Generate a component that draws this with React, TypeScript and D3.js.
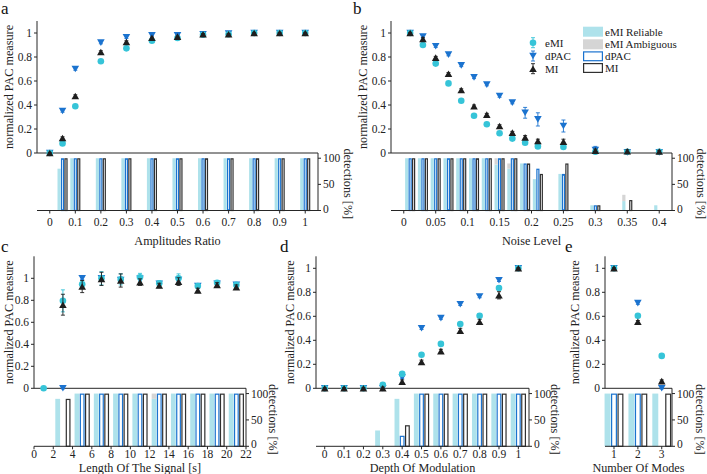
import React from 'react';
import * as d3 from 'd3';

// ---------------- Panel a : Amplitudes Ratio ----------------
const ampRatio = [0, 0.05, 0.1, 0.2, 0.3, 0.4, 0.5, 0.6, 0.7, 0.8, 0.9, 1];
const aEMI = [0, 0.08, 0.39, 0.765, 0.872, 0.935, 0.958, 0.985, 0.99, 1, 1, 1];
const aDPAC = [0, 0.35, 0.70, 0.92, 0.965, 0.98, 0.98, 0.99, 0.995, 1, 1, 1];
const aMI = [0, 0.125, 0.475, 0.842, 0.925, 0.96, 0.97, 0.99, 0.99, 1, 1, 1];
const aEMIErr = [0.005, 0.01, 0.01, 0.01, 0.01, 0.005, 0.005, 0.005, 0.005, 0.005, 0.005, 0.005];
const aDPACErr = [0.005, 0.01, 0.01, 0.01, 0.01, 0.005, 0.005, 0.005, 0.005, 0.005, 0.005, 0.005];
const aMIErr = [0.005, 0.01, 0.01, 0.01, 0.01, 0.005, 0.005, 0.005, 0.005, 0.005, 0.005, 0.005];
const aRel = [0, 80, 100, 100, 100, 100, 100, 100, 100, 100, 100, 100];
const aAmb = [0, 0, 0, 0, 0, 0, 0, 0, 0, 0, 0, 0];
const aDPACDet = [0, 100, 100, 100, 100, 100, 100, 100, 100, 100, 100, 100];
const aMIDet = [0, 100, 100, 100, 100, 100, 100, 100, 100, 100, 100, 100];
const aTicks = [0, 0.1, 0.2, 0.3, 0.4, 0.5, 0.6, 0.7, 0.8, 0.9, 1];

// ---------------- Panel b : Noise Level ----------------
const noiseLevel = [0.01, 0.03, 0.05, 0.07, 0.09, 0.11, 0.13, 0.15, 0.17, 0.19, 0.21, 0.25, 0.3, 0.35, 0.4];
const bEMI = [1, 0.9, 0.745, 0.58, 0.435, 0.31, 0.24, 0.165, 0.12, 0.085, 0.055, 0.05, 0.01, 0.01, 0.01];
const bDPAC = [1, 0.97, 0.89, 0.82, 0.73, 0.63, 0.57, 0.475, 0.42, 0.335, 0.28, 0.225, 0.025, 0.005, 0.005];
const bMI = [1, 0.95, 0.795, 0.66, 0.525, 0.39, 0.32, 0.225, 0.17, 0.13, 0.1, 0.095, 0.02, 0.015, 0.012];
const bEMIErr = [0.005, 0.01, 0.01, 0.01, 0.01, 0.01, 0.01, 0.01, 0.01, 0.01, 0.01, 0.01, 0.01, 0.01, 0.01];
const bDPACErr = [0.005, 0.01, 0.01, 0.01, 0.01, 0.01, 0.01, 0.01, 0.01, 0.045, 0.055, 0.05, 0.03, 0.012, 0.01];
const bMIErr = [0.005, 0.01, 0.01, 0.01, 0.01, 0.01, 0.01, 0.01, 0.01, 0.015, 0.015, 0.02, 0.012, 0.012, 0.01];
const bRel = [100, 100, 100, 100, 100, 100, 100, 88, 80, 90, 60, 70, 10, 18, 10];
const bAmb = [0, 0, 0, 0, 0, 0, 0, 12, 10, 0, 0, 0, 0, 12, 0];
const bDPACDet = [100, 100, 100, 100, 100, 100, 100, 100, 100, 90, 80, 70, 10, 0, 0];
const bMIDet = [100, 100, 100, 100, 100, 100, 100, 100, 100, 90, 70, 90, 10, 20, 0];
const bTicks = [0, 0.05, 0.1, 0.15, 0.2, 0.25, 0.3, 0.35, 0.4];

// ---------------- Panel c : Length Of The Signal ----------------
const signalLength = [1, 3, 5, 7, 9, 11, 13, 15, 17, 19, 21];
const cEMI = [0, 0.795, 0.945, 1.0, 0.99, 1.01, 0.955, 1.0, 0.93, 0.96, 0.94];
const cDPAC: (number | null)[] = [null, 0, 1.0, 1.0, 0.985, 0.995, 0.95, 0.985, 0.93, 0.95, 0.94];
const cMI: (number | null)[] = [null, 0.76, 0.925, 0.995, 0.98, 0.965, 0.935, 0.97, 0.89, 0.94, 0.92];
const cEMIErr = [0, 0.1, 0.03, 0.06, 0.05, 0.035, 0.02, 0.04, 0.02, 0.02, 0.02];
const cDPACErr = [0, 0.005, 0.01, 0.01, 0.01, 0.01, 0.01, 0.01, 0.01, 0.01, 0.01];
const cMIErr = [0, 0.095, 0.055, 0.06, 0.06, 0.03, 0.02, 0.035, 0.02, 0.02, 0.02];
const cRel = [0, 90, 100, 100, 100, 100, 90, 100, 100, 100, 100];
const cAmb = [0, 0, 0, 0, 0, 0, 10, 0, 0, 0, 0];
const cDPACDet = [0, 0, 100, 100, 100, 100, 100, 100, 100, 100, 100];
const cMIDet = [0, 90, 100, 100, 100, 100, 100, 100, 100, 100, 100];
const cTicks = [0, 2, 4, 6, 8, 10, 12, 14, 16, 18, 20, 22];

// ---------------- Panel d : Depth Of Modulation ----------------
const modDepth = [0, 0.1, 0.2, 0.3, 0.4, 0.5, 0.6, 0.7, 0.8, 0.9, 1];
const dEMI = [0, 0, 0, 0.03, 0.12, 0.28, 0.37, 0.535, 0.605, 0.835, 1];
const dDPAC = [0, 0, 0, 0, 0.09, 0.5, 0.585, 0.7, 0.765, 0.9, 1];
const dMI = [0, 0, 0, 0, 0.055, 0.22, 0.31, 0.48, 0.555, 0.775, 1];
const dEMIErr = [0.005, 0.005, 0.005, 0.01, 0.015, 0.01, 0.01, 0.01, 0.015, 0.02, 0.005];
const dDPACErr = [0.005, 0.005, 0.005, 0.005, 0.01, 0.01, 0.01, 0.01, 0.01, 0.01, 0.005];
const dMIErr = [0.005, 0.005, 0.005, 0.01, 0.015, 0.015, 0.015, 0.02, 0.02, 0.03, 0.005];
const dRel = [0, 0, 0, 30, 90, 100, 100, 100, 100, 100, 100];
const dAmb = [0, 0, 0, 0, 0, 0, 0, 0, 0, 0, 0];
const dDPACDet = [0, 0, 0, 0, 20, 100, 100, 100, 100, 100, 100];
const dMIDet = [0, 0, 0, 0, 40, 100, 100, 100, 100, 100, 100];
const dTicks = [0, 0.1, 0.2, 0.3, 0.4, 0.5, 0.6, 0.7, 0.8, 0.9, 1];

// ---------------- Panel e : Number Of Modes ----------------
const numModes = [1, 2, 3];
const eEMI = [1, 0.605, 0.27];
const eDPAC = [1, 0.71, 0];
const eMIv = [1, 0.555, 0.06];
const eEMIErr = [0.005, 0.01, 0.01];
const eDPACErr = [0.005, 0.01, 0.005];
const eMIErr = [0.005, 0.01, 0.01];
const eRel = [100, 100, 100];
const eAmb = [0, 0, 0];
const eDPACDet = [100, 100, 0];
const eMIDet = [100, 100, 100];
const eTicks = [1, 2, 3];

const yTicks = [0, 0.2, 0.4, 0.6, 0.8, 1];
const detTicks = [0, 50, 100];

const COL = {
  emi: '#36c4d8',
  dpac: '#1b73cf',
  mi: '#1e1e1e',
  rel: '#aee2eb',
  amb: '#d5d5d5',
  axis: '#262626',
  miBar: '#303030',
};
const FONT = '"Liberation Serif", "Times New Roman", serif';
const TICK_FS = 11.5;
const LABEL_FS = 12.2;
const LEGEND_FS = 11;

const fmt = (v: number) => String(+v.toFixed(3));

interface Cfg {
  letter: string; letterX: number; letterY: number;
  x: number[]; xDomain: [number, number]; xRange: [number, number]; xTicks: number[];
  xLabel: string; minSpacing: number;
  zeroY: number; topY: number; yMax: number; baseY: number;
  tickLabelY: number; xLabelY: number; yLabelX: number; detLabelX: number;
  emi: (number | null)[]; emiErr: number[];
  dpac: (number | null)[]; dpacErr: number[];
  mi: (number | null)[]; miErr: number[];
  rel: number[]; amb: number[]; dpacDet: number[]; miDet: number[];
}

function triUp(cx: number, cy: number, s = 7.6, h = 6.6) {
  return `M${cx},${cy - h / 2}L${cx + s / 2},${cy + h / 2}L${cx - s / 2},${cy + h / 2}Z`;
}
function triDown(cx: number, cy: number, s = 7.6, h = 6.6) {
  return `M${cx},${cy + h / 2}L${cx + s / 2},${cy - h / 2}L${cx - s / 2},${cy - h / 2}Z`;
}

function ErrBar({ cx, y0, y1, color }: { cx: number; y0: number; y1: number; color: string }) {
  const c = 2;
  return (
    <g stroke={color} strokeWidth={0.9}>
      <line x1={cx} x2={cx} y1={y0} y2={y1} />
      <line x1={cx - c} x2={cx + c} y1={y0} y2={y0} />
      <line x1={cx - c} x2={cx + c} y1={y1} y2={y1} />
    </g>
  );
}

function Panel({ cfg }: { cfg: Cfg }) {
  const x = d3.scaleLinear().domain(cfg.xDomain).range(cfg.xRange);
  const y = d3.scaleLinear().domain([0, cfg.yMax]).range([cfg.zeroY, cfg.topY]);
  const yb = d3.scaleLinear().domain([0, 110]).range([cfg.baseY, cfg.zeroY]);
  const sp = x(cfg.minSpacing) - x(0);
  const bw = 0.25 * sp;
  const off = 0.27 * sp;
  const [x0, x1] = cfg.xRange;

  const series = (vals: (number | null)[], errs: number[], color: string, kind: 'c' | 'u' | 'd') =>
    vals.map((v, i) => {
      if (v === null || v === undefined) return null;
      const cx = x(cfg.x[i]);
      const cy = y(v);
      const e = errs[i] || 0;
      return (
        <g key={kind + i}>
          {e > 0 && <ErrBar cx={cx} y0={y(v - e)} y1={y(v + e)} color={color} />}
          {kind === 'c' && <circle cx={cx} cy={cy} r={3.3} fill={color} />}
          {kind === 'u' && <path d={triUp(cx, cy)} fill={color} />}
          {kind === 'd' && <path d={triDown(cx, cy)} fill={color} />}
        </g>
      );
    });

  const midTop = (cfg.zeroY + cfg.topY) / 2;
  const midBar = (cfg.zeroY + cfg.baseY) / 2 + 2;

  return (
    <g>
      <text x={cfg.letterX} y={cfg.letterY} fontSize={17} fontFamily={FONT} fill="#111">{cfg.letter}</text>
      {/* bars */}
      {cfg.x.map((xv, i) => {
        const cx = x(xv);
        const rel = cfg.rel[i];
        const amb = cfg.amb[i];
        return (
          <g key={'bar' + i}>
            {rel > 0 && (
              <rect x={cx - off - bw / 2} width={bw} y={yb(rel)} height={cfg.baseY - yb(rel)} fill={COL.rel} />
            )}
            {amb > 0 && (
              <rect x={cx - off - bw / 2} width={bw} y={yb(rel + amb)} height={yb(rel) - yb(rel + amb)} fill={COL.amb} />
            )}
            {cfg.dpacDet[i] > 0 && (
              <rect x={cx - bw / 2 + 0.6} width={bw - 1.2} y={yb(cfg.dpacDet[i]) + 0.6}
                height={cfg.baseY - yb(cfg.dpacDet[i]) - 0.6} fill="#fff" stroke={COL.dpac} strokeWidth={1.2} />
            )}
            {cfg.miDet[i] > 0 && (
              <rect x={cx + off - bw / 2 + 0.6} width={bw - 1.2} y={yb(cfg.miDet[i]) + 0.6}
                height={cfg.baseY - yb(cfg.miDet[i]) - 0.6} fill="#fff" stroke={COL.miBar} strokeWidth={1.2} />
            )}
          </g>
        );
      })}
      {/* axes */}
      <g stroke={COL.axis} strokeWidth={1} fill="none">
        <line x1={x0} x2={x0} y1={cfg.zeroY} y2={cfg.topY} />
        <line x1={x0} x2={x1} y1={cfg.zeroY} y2={cfg.zeroY} />
        <line x1={x0} x2={x1} y1={cfg.baseY} y2={cfg.baseY} />
        <line x1={x1} x2={x1} y1={cfg.zeroY} y2={cfg.baseY} />
        {yTicks.map((t) => (
          <line key={'yt' + t} x1={x0 - 3} x2={x0} y1={y(t)} y2={y(t)} />
        ))}
        {cfg.xTicks.map((t) => (
          <line key={'xt' + t} x1={x(t)} x2={x(t)} y1={cfg.baseY} y2={cfg.baseY + 3} />
        ))}
        {detTicks.map((t) => (
          <line key={'dt' + t} x1={x1} x2={x1 + 3} y1={yb(t)} y2={yb(t)} />
        ))}
      </g>
      <g fontFamily={FONT} fontSize={TICK_FS} fill="#222">
        {yTicks.map((t) => (
          <text key={'ytl' + t} x={x0 - 5} y={y(t)} dy="0.35em" textAnchor="end">{fmt(t)}</text>
        ))}
        {cfg.xTicks.map((t) => (
          <text key={'xtl' + t} x={x(t)} y={cfg.tickLabelY} dy="0.35em" textAnchor="middle">{fmt(t)}</text>
        ))}
        {detTicks.map((t) => (
          <text key={'dtl' + t} x={x1 + 5} y={yb(t) - (t === 0 ? 2 : 0)} dy="0.35em" textAnchor="start">{t}</text>
        ))}
      </g>
      <g fontFamily={FONT} fontSize={LABEL_FS} fill="#222">
        <text x={(x0 + x1) / 2} y={cfg.xLabelY} dy="0.35em" textAnchor="middle">{cfg.xLabel}</text>
        <text transform={`translate(${cfg.yLabelX},${midTop}) rotate(-90)`} textAnchor="middle" dominantBaseline="central">
          normalized PAC measure
        </text>
        <text transform={`translate(${cfg.detLabelX},${midBar}) rotate(90)`} textAnchor="middle" dominantBaseline="central">
          detections [%]
        </text>
      </g>
      {/* markers */}
      {series(cfg.dpac, cfg.dpacErr, COL.dpac, 'd')}
      {series(cfg.emi, cfg.emiErr, COL.emi, 'c')}
      {series(cfg.mi, cfg.miErr, COL.mi, 'u')}
    </g>
  );
}

const TOP = { zeroY: 153, topY: 21, baseY: 210.5, tickLabelY: 221.5, xLabelY: 241, letterY: 14 };
const BOT = { zeroY: 388.3, topY: 256.3, baseY: 446.3, tickLabelY: 454, xLabelY: 467.5, letterY: 252 };

const panels: Cfg[] = [
  {
    ...TOP, letter: 'a', letterX: 1, x: ampRatio, xDomain: [-0.05, 1.05], xRange: [37, 318], xTicks: aTicks,
    xLabel: 'Amplitudes Ratio', minSpacing: 0.05, yMax: 1.1, yLabelX: 9, detLabelX: 348,
    emi: aEMI, emiErr: aEMIErr, dpac: aDPAC, dpacErr: aDPACErr, mi: aMI, miErr: aMIErr,
    rel: aRel, amb: aAmb, dpacDet: aDPACDet, miDet: aMIDet,
  },
  {
    ...TOP, letter: 'b', letterX: 353, x: noiseLevel, xDomain: [-0.02, 0.42], xRange: [391, 672], xTicks: bTicks,
    xLabel: 'Noise Level', minSpacing: 0.02, yMax: 1.1, yLabelX: 363, detLabelX: 701,
    emi: bEMI, emiErr: bEMIErr, dpac: bDPAC, dpacErr: bDPACErr, mi: bMI, miErr: bMIErr,
    rel: bRel, amb: bAmb, dpacDet: bDPACDet, miDet: bMIDet,
  },
  {
    ...BOT, letter: 'c', letterX: 1, x: signalLength, xDomain: [0, 22], xRange: [34, 246], xTicks: cTicks,
    xLabel: 'Length Of The Signal [s]', minSpacing: 2, yMax: 1.2, yLabelX: 9, detLabelX: 273,
    emi: cEMI, emiErr: cEMIErr, dpac: cDPAC, dpacErr: cDPACErr, mi: cMI, miErr: cMIErr,
    rel: cRel, amb: cAmb, dpacDet: cDPACDet, miDet: cMIDet,
  },
  {
    ...BOT, letter: 'd', letterX: 280, x: modDepth, xDomain: [-0.045, 1.055], xRange: [316, 529], xTicks: dTicks,
    xLabel: 'Depth Of Modulation', minSpacing: 0.1, yMax: 1.1, yLabelX: 290, detLabelX: 555,
    emi: dEMI, emiErr: dEMIErr, dpac: dDPAC, dpacErr: dDPACErr, mi: dMI, miErr: dMIErr,
    rel: dRel, amb: dAmb, dpacDet: dDPACDet, miDet: dMIDet,
  },
  {
    ...BOT, letter: 'e', letterX: 565, x: numModes, xDomain: [0.623, 3.43], xRange: [605, 672], xTicks: eTicks,
    xLabel: 'Number Of Modes', minSpacing: 1, yMax: 1.1, yLabelX: 575, detLabelX: 700,
    emi: eEMI, emiErr: eEMIErr, dpac: eDPAC, dpacErr: eDPACErr, mi: eMIv, miErr: eMIErr,
    rel: eRel, amb: eAmb, dpacDet: eDPACDet, miDet: eMIDet,
  },
];

const markerLegend = ['eMI', 'dPAC', 'MI'];
const barLegend = ['eMI Reliable', 'eMI Ambiguous', 'dPAC', 'MI'];

function Legend() {
  const mx = 533;
  const ys = [42.7, 56, 68.7];
  const cols = [COL.emi, COL.dpac, COL.mi];
  const by = [31.7, 44.3, 56.3, 68];
  return (
    <g fontFamily={FONT} fontSize={LEGEND_FS} fill="#222">
      {markerLegend.map((name, i) => (
        <g key={name}>
          <ErrBar cx={mx} y0={ys[i] - 5} y1={ys[i] + 5} color={cols[i]} />
          {i === 0 && <circle cx={mx} cy={ys[i]} r={3.3} fill={cols[i]} />}
          {i === 1 && <path d={triDown(mx, ys[i])} fill={cols[i]} />}
          {i === 2 && <path d={triUp(mx, ys[i])} fill={cols[i]} />}
          <text x={mx + 12} y={ys[i]} dy="0.35em">{name}</text>
        </g>
      ))}
      {barLegend.map((name, i) => (
        <g key={'bl' + name + i}>
          {i === 0 && <rect x={583} y={by[i] - 5} width={20} height={10} fill={COL.rel} />}
          {i === 1 && <rect x={583} y={by[i] - 5} width={20} height={10} fill={COL.amb} />}
          {i === 2 && <rect x={583.6} y={by[i] - 4.4} width={18.8} height={8.8} fill="#fff" stroke={COL.dpac} strokeWidth={1.2} />}
          {i === 3 && <rect x={583.6} y={by[i] - 4.4} width={18.8} height={8.8} fill="#fff" stroke={COL.miBar} strokeWidth={1.2} />}
          <text x={605} y={by[i]} dy="0.35em">{name}</text>
        </g>
      ))}
    </g>
  );
}

export default function App() {
  return (
    <svg width={707} height={474} viewBox="0 0 707 474"
      style={{ position: 'absolute', left: 0, top: 0, background: '#fff' }}>
      <rect width={707} height={474} fill="#fff" />
      {panels.map((p) => (
        <Panel key={p.letter} cfg={p} />
      ))}
      <Legend />
    </svg>
  );
}
